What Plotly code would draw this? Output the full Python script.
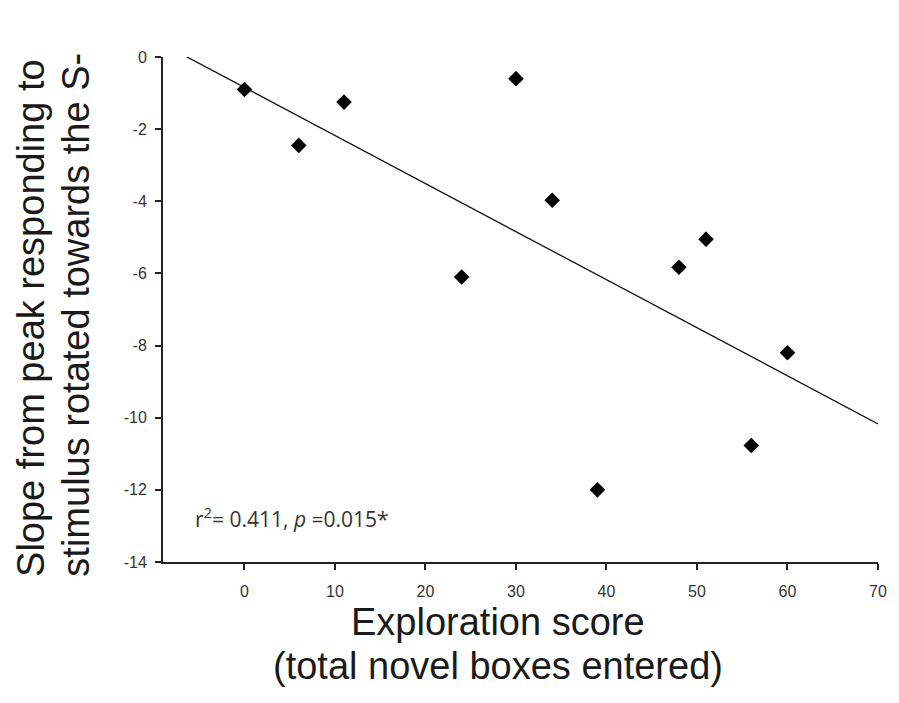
import numpy as np
import plotly.graph_objects as go

# Data
exploration_score = [0, 6, 11, 24, 30, 34, 39, 48, 51, 56, 60]
slope_values = [-0.9, -2.45, -1.25, -6.1, -0.6, -3.97, -12.0, -5.83, -5.05, -10.77, -8.2]
x_ticks = [0, 10, 20, 30, 40, 50, 60, 70]
y_ticks = [0, -2, -4, -6, -8, -10, -12, -14]
y_tick_labels = ["0", "-2", "-4", "-6", "-8", "-10", "-12", "-14"]
fit_x_span = [-6.6, 70]

coef = np.polyfit(exploration_score, slope_values, 1)
fit_x = np.array(fit_x_span)
fit_y = np.polyval(coef, fit_x)

fig = go.Figure()
fig.add_trace(go.Scatter(x=fit_x, y=fit_y, mode="lines",
                         line=dict(color="#111111", width=1.3), showlegend=False))
fig.add_trace(go.Scatter(x=exploration_score, y=slope_values, mode="markers",
                         marker=dict(symbol="diamond", size=12, color="black"),
                         showlegend=False))

axis_font = dict(family="Liberation Sans, Arial, sans-serif", size=16, color="#333333")
fig.update_xaxes(range=[-9, 70], tickvals=x_ticks, showline=True, linecolor="#222222",
                 linewidth=2, ticks="outside", ticklen=6, tickwidth=2, tickcolor="#222222",
                 showgrid=False, zeroline=False, tickfont=axis_font, ticklabelstandoff=8)
fig.update_yaxes(range=[-14, 0], tickvals=y_ticks, ticktext=y_tick_labels, showline=True,
                 linecolor="#222222", linewidth=2, ticks="outside", ticklen=6, tickwidth=2,
                 tickcolor="#222222", showgrid=False, zeroline=False, tickfont=axis_font,
                 ticklabelstandoff=5)

title_font = dict(family="Liberation Sans, Arial, sans-serif", size=38, color="#1a1a1a")
ytitle_base = (562 - 579) / 505
annotations = [
    dict(text="Slope from peak responding to", x=-0.1847, y=ytitle_base, textangle=-90,
         xanchor="center", yanchor="bottom"),
    dict(text="stimulus rotated towards the S-", x=-0.1222, y=ytitle_base, textangle=-90,
         xanchor="center", yanchor="bottom"),
    dict(text="Exploration score", x=0.468, y=-0.118, textangle=0,
         xanchor="center", yanchor="middle"),
    dict(text="(total novel boxes entered)", x=0.468, y=-0.205, textangle=0,
         xanchor="center", yanchor="middle"),
]
for a in annotations:
    fig.add_annotation(xref="paper", yref="paper", showarrow=False, font=title_font, **a)

fig.add_annotation(xref="paper", yref="paper", x=(193 - 163) / 720, y=(562 - 517) / 505,
                   xanchor="left", yanchor="middle", showarrow=False,
                   text="r<sup>2</sup>= 0.411, <i>p</i> =0.015*",
                   font=dict(family="Open Sans, sans-serif", size=21, color="#333333"))

# page body has an 8px margin, so the figure is drawn 8px in from the window edge
fig.update_layout(width=891, height=695, margin=dict(l=155, r=16, t=49, b=141),
                  plot_bgcolor="white", paper_bgcolor="white")
fig.write_html("out.html")
